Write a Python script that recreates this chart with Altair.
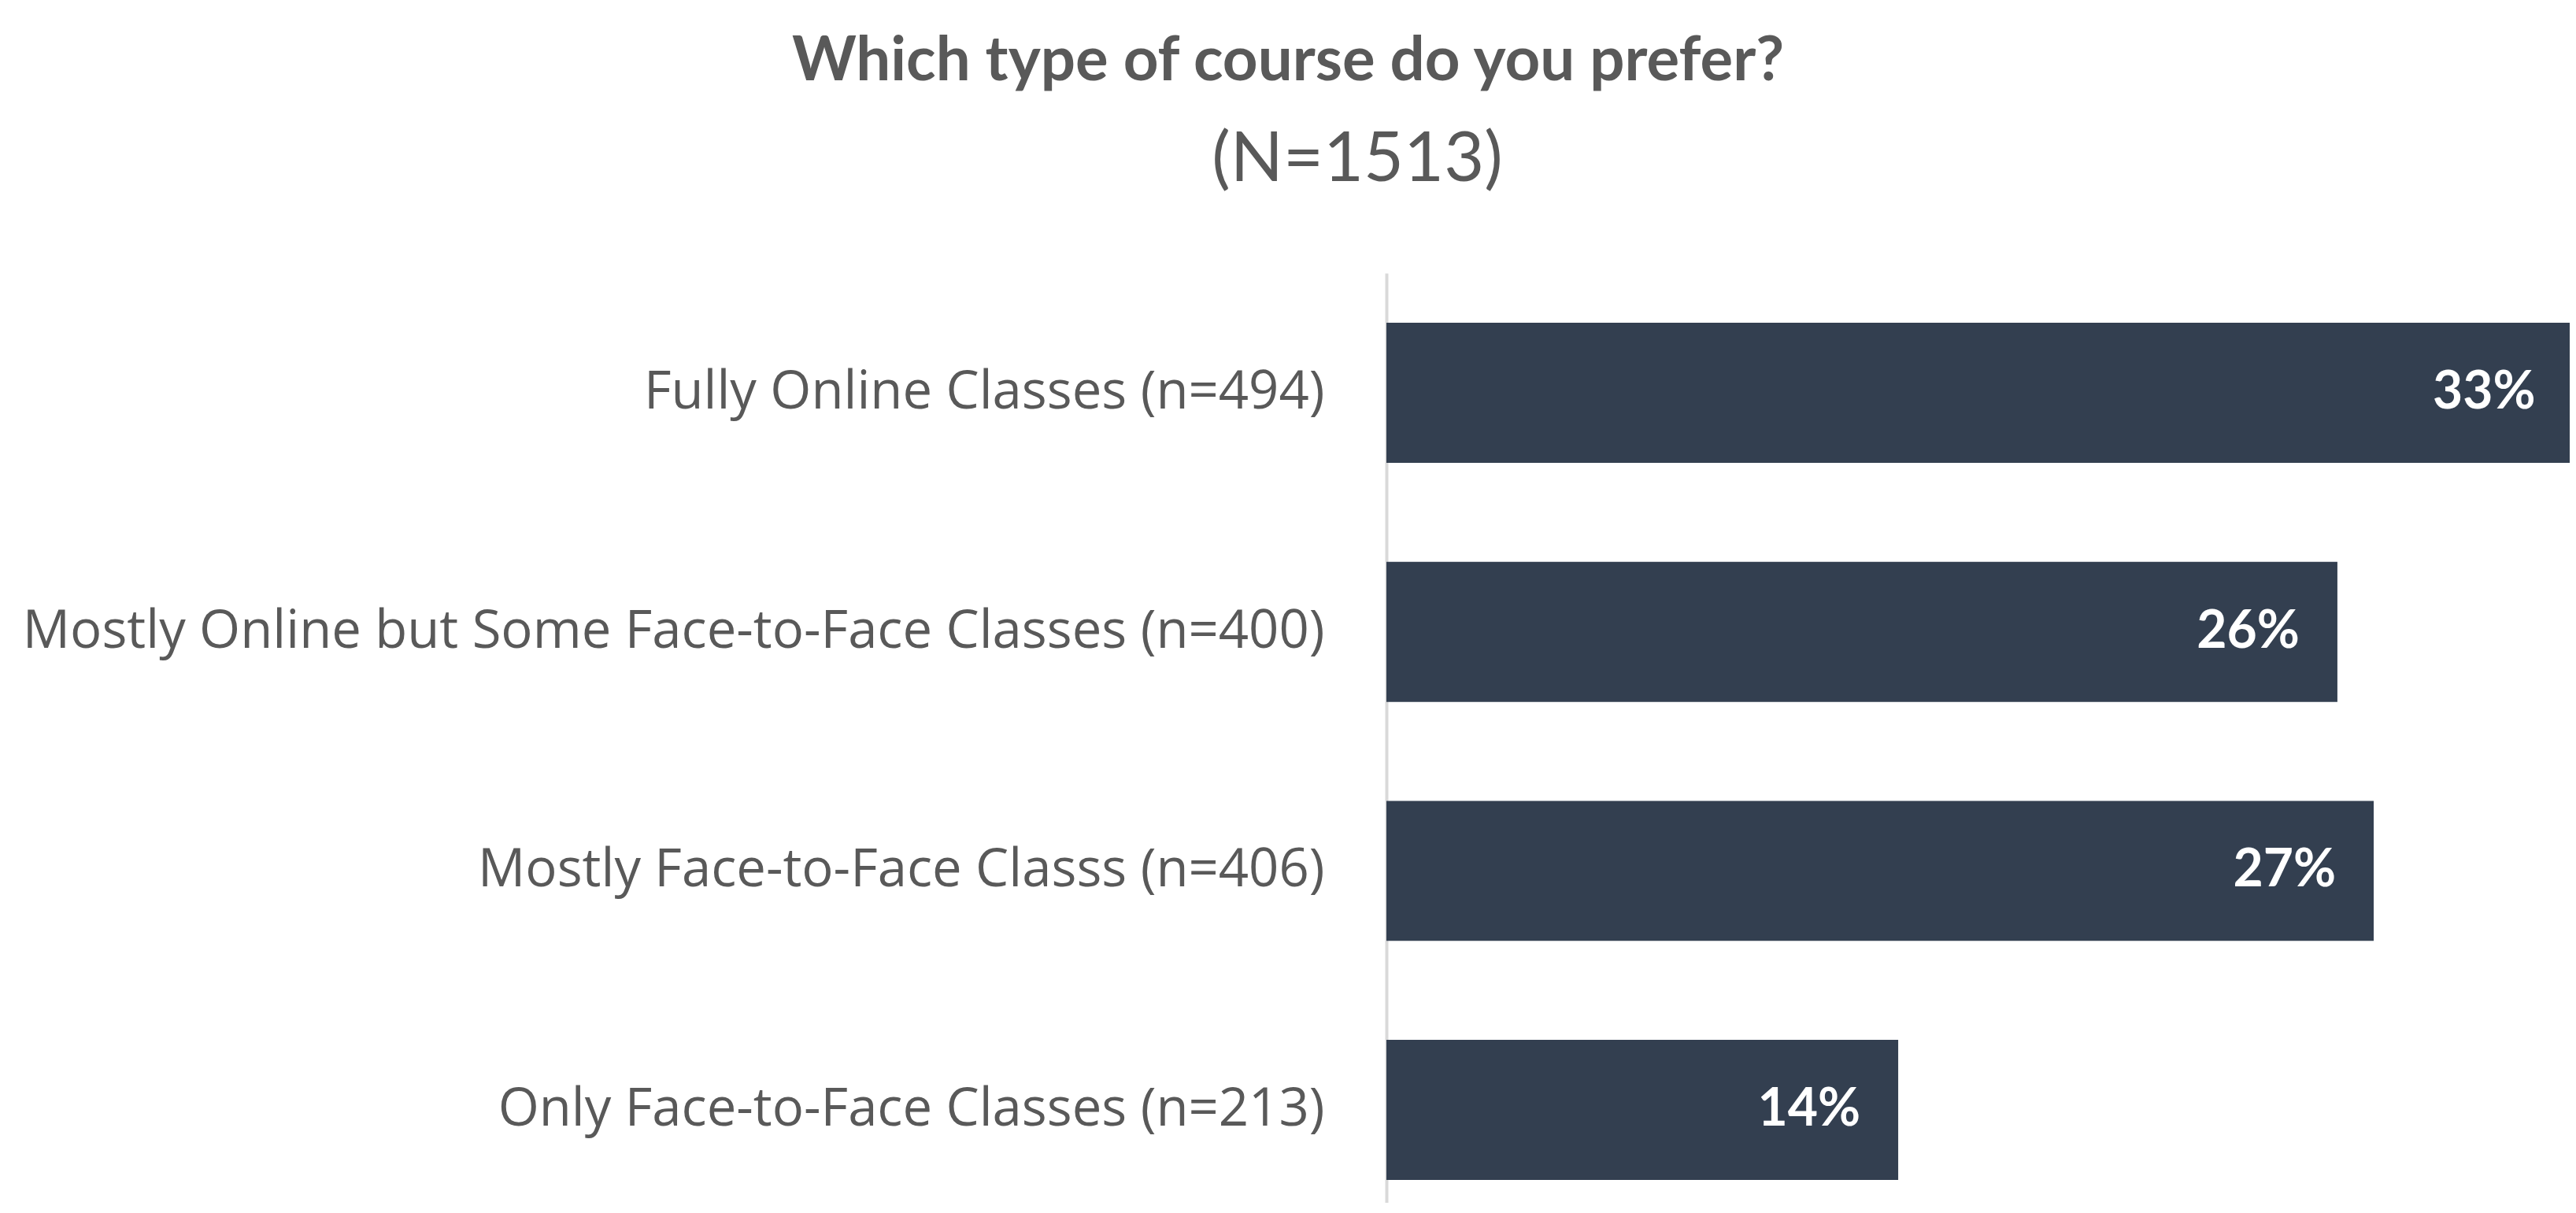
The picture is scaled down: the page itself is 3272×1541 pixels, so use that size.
import altair as alt
import pandas as pd

# ---- data ----
categories = [
    "Fully Online Classes (n=494)",
    "Mostly Online but Some Face-to-Face Classes (n=400)",
    "Mostly Face-to-Face Classs (n=406)",
    "Only Face-to-Face Classes (n=213)",
]
percent_values = [32.7, 26.2, 27.2, 14.1]
percent_labels = ["33%", "26%", "27%", "14%"]

TITLE = "Which type of course do you prefer?"
SUBTITLE = "(N=1513)"

BAR_COLOR = "#333F50"
TEXT_COLOR = "#595959"
AXIS_COLOR = "#D9D9D9"
FONT = "Lato"
LABEL_FONT = "Open Sans"

df = pd.DataFrame({
    "category": categories,
    "value": percent_values,
    "label": percent_labels,
})

y_enc = alt.Y(
    "category:N",
    sort=categories,
    title=None,
    scale=alt.Scale(paddingInner=0.414, paddingOuter=0.1515, align=0.685),
    axis=alt.Axis(
        ticks=False,
        tickSize=0,
        labelPadding=79,
        labelFont=LABEL_FONT,
        labelFontSize=67,
        labelColor=TEXT_COLOR,
        labelLimit=3000,
        domainColor=AXIS_COLOR,
        domainWidth=4,
        grid=False,
    ),
)
x_enc = alt.X(
    "value:Q",
    scale=alt.Scale(domain=[0, 32.6], nice=False, zero=True),
    axis=None,
)

base = alt.Chart(df)

bars = base.mark_bar(color=BAR_COLOR).encode(x=x_enc, y=y_enc)

pct = base.mark_text(
    font=FONT, fontSize=66, fontWeight="bold", color="white",
    align="right", baseline="middle", dx=-48,
).encode(x=x_enc, y=y_enc, text="label:N")

title_mark = alt.Chart(pd.DataFrame({"t": [TITLE]})).mark_text(
    font=FONT, fontSize=78, fontWeight="bold", color=TEXT_COLOR,
    align="center", baseline="alphabetic",
).encode(text="t:N", x=alt.value(-125), y=alt.value(-245))

subtitle_mark = alt.Chart(pd.DataFrame({"t": [SUBTITLE]})).mark_text(
    font=FONT, fontSize=88, color=TEXT_COLOR,
    align="center", baseline="alphabetic",
).encode(text="t:N", x=alt.value(-37), y=alt.value(-117))

chart = alt.layer(bars, pct, title_mark, subtitle_mark).properties(
    width=1503,
    height=1181,
    padding={"left": 1753, "top": 339, "right": 0, "bottom": 0},
    autosize=alt.AutoSizeParams(type="none"),
    background="white",
).configure_view(stroke=None)

chart.save("out.html", embed_options={"renderer": "svg", "actions": False})
